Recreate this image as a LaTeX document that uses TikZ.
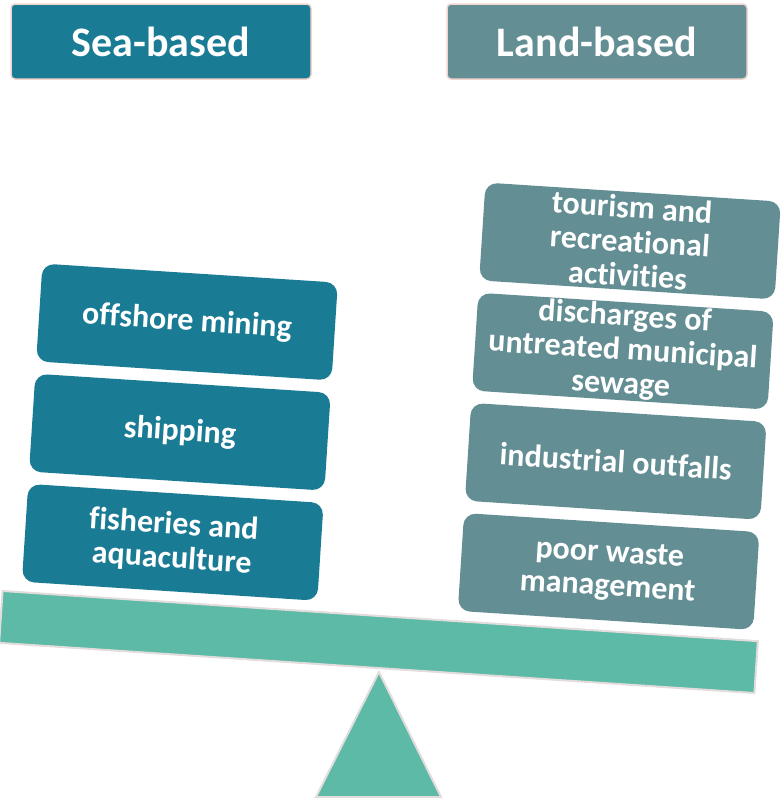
\documentclass[tikz,border=0pt]{standalone}
\usepackage{fontspec}
\setmainfont{Carlito}[Ligatures=NoCommon]
\usepackage{tikz}
\usetikzlibrary{positioning,calc}
\definecolor{seablue}{RGB}{26,123,148}
\definecolor{landgrey}{RGB}{99,142,148}
\definecolor{beamgreen}{RGB}{92,186,166}
\definecolor{rimgrey}{RGB}{226,220,220}
\definecolor{rimpink}{RGB}{240,214,206}
\tikzset{
	header/.style={
		rectangle,
		rounded corners=4pt,
		draw=rimpink,
		line width=1.5pt,
		minimum width=300pt,
		minimum height=75pt,
		text=white,
		font=\fontsize{42}{46}\selectfont\bfseries,
	},
	sourcebox/.style={
		rectangle,
		rounded corners=12pt,
		minimum width=296pt,
		minimum height=98pt,
		inner sep=0pt,
		text=white,
		align=center,
		font=\fontsize{32}{34}\selectfont\bfseries,
	},
	seasource/.style={
		sourcebox,
		fill=seablue,
	},
	landsource/.style={
		sourcebox,
		fill=landgrey,
	},
}

\begin{document}
\begin{tikzpicture}[x=1pt, y=-1pt, node distance=12pt]
				
				\tikzstyle{balance}=[draw=rimgrey,line width=2pt,fill=beamgreen]
				
				\useasboundingbox (0,0) rectangle (782,801);
				
				\node [header, fill=seablue] (sea) at (161,41.5) {Sea-based};
				\node [header, fill=landgrey] (land) at (597,41.5) {Land-based};
				
				\begin{scope}[shift={(187,322)}, rotate=-3.7, transform shape]
					\node [seasource] (mining) {offshore mining};
					\node [seasource] (shipping) [below =of mining] {shipping};
					\node [seasource] (fisheries) [below =of shipping] {fisheries and\\aquaculture};
				\end{scope}
				
				\begin{scope}[shift={(630,241)}, rotate=-3.7, transform shape]
					\node [landsource] (tourism) {tourism and\\recreational\\activities};
					\node [landsource] (sewage) [below =of tourism] {discharges of\\untreated municipal\\sewage};
					\node [landsource] (outfalls) [below =of sewage] {industrial outfalls};
					\node [landsource] (waste) [below =of outfalls] {poor waste\\management};
				\end{scope}
				
				\node [balance, rectangle, minimum width=757pt, minimum height=52pt, rotate=-3.8] (beam) at (378.5,642) {};
				\draw [balance] (379,672) coordinate (apex) -- (441,797) -- (316,797) -- cycle;
			\end{tikzpicture}
\end{document}
